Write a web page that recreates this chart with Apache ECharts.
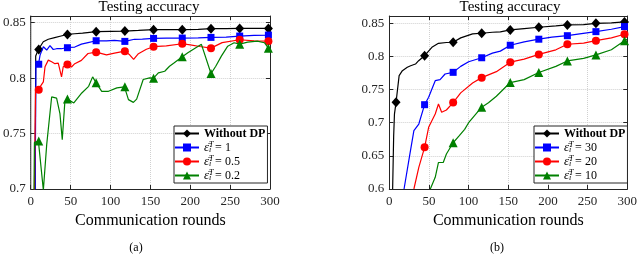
<!DOCTYPE html>
<html><head><meta charset="utf-8">
<script src="https://cdn.jsdelivr.net/npm/echarts/dist/echarts.min.js"></script>
<style>html,body{margin:0;padding:0;background:#fff}#c{width:640px;height:256px}</style>
</head><body><div id="c"></div>
<script>
// ---------- Left panel (a) ----------
const aBlackR = [4.5, 5.5, 6.2, 9.6, 15.7, 22, 30, 38, 46, 55, 65, 71, 82, 100, 118, 135, 154, 170, 190, 210, 226, 245, 262, 280, 298, 300];
const aBlackV = [0.6, 0.70, 0.82, 0.8258, 0.8328, 0.835, 0.8365, 0.838, 0.8394, 0.840, 0.8405, 0.841, 0.8419, 0.8422, 0.8424, 0.843, 0.8437, 0.8437, 0.8437, 0.844, 0.8446, 0.8447, 0.8448, 0.8448, 0.8448, 0.8448];
const aBlueR = [4, 5.5, 6.5, 9.6, 11.7, 15.8, 20, 24.1, 28.2, 32.4, 38.6, 46, 55.2, 63.5, 71.8, 82, 95, 105, 118, 130, 140, 154, 170, 190, 210, 226, 245, 262, 280, 298, 300];
const aBlueV = [0.6, 0.70, 0.811, 0.8122, 0.8207, 0.8283, 0.8253, 0.8292, 0.8258, 0.8265, 0.8265, 0.8276, 0.828, 0.8306, 0.832, 0.8337, 0.8335, 0.834, 0.8331, 0.835, 0.8352, 0.8358, 0.836, 0.8361, 0.8363, 0.8367, 0.837, 0.8379, 0.8385, 0.8388, 0.839];
const aRedR = [3.5, 4.6, 6, 9.6, 12.9, 15.8, 17.9, 22, 26.2, 30.3, 34.5, 38.6, 40.7, 46, 51.1, 55.2, 63.5, 71.8, 82, 95, 105, 118, 124, 129, 135, 145, 154, 170, 190, 200, 212, 226, 240, 262, 280, 298, 300];
const aRedV = [0.6, 0.70, 0.789, 0.7896, 0.7935, 0.7966, 0.8102, 0.8162, 0.8147, 0.813, 0.8135, 0.8011, 0.8102, 0.8122, 0.81, 0.813, 0.816, 0.8222, 0.8234, 0.821, 0.8225, 0.8243, 0.821, 0.8168, 0.822, 0.826, 0.8283, 0.829, 0.831, 0.830, 0.8285, 0.827, 0.832, 0.8346, 0.8335, 0.8333, 0.8335];
const aGreenR = [3, 4.6, 9.6, 15.8, 20, 26.2, 32.4, 36.6, 39.5, 42.8, 46, 54, 64, 72.6, 77.6, 82, 89, 97.5, 108, 117.5, 122.5, 128.7, 132.8, 141, 149, 154, 160, 168, 174, 180, 190, 197, 210, 214, 226, 232, 239, 247, 255, 262, 272, 284, 293, 298, 300];
const aGreenV = [0.6, 0.742, 0.7432, 0.699, 0.74, 0.783, 0.782, 0.768, 0.7444, 0.779, 0.7812, 0.7776, 0.7866, 0.7926, 0.8011, 0.7957, 0.7881, 0.7881, 0.7912, 0.7921, 0.7806, 0.7781, 0.781, 0.7987, 0.8002, 0.7999, 0.8047, 0.8062, 0.8107, 0.8138, 0.8192, 0.8228, 0.8288, 0.8304, 0.8041, 0.8107, 0.8198, 0.8288, 0.8319, 0.8306, 0.8324, 0.8333, 0.8319, 0.827, 0.8265];
const aMarkR = [10, 46, 82, 118, 154, 190, 226, 262, 298];
const aBlackM = [0.8258, 0.8394, 0.8419, 0.8424, 0.8437, 0.8437, 0.8446, 0.8448, 0.8448];
const aBlueM = [0.8125, 0.8274, 0.8337, 0.8331, 0.8358, 0.8361, 0.8367, 0.8379, 0.8388];
const aRedM = [0.7896, 0.8122, 0.8234, 0.8243, 0.8283, 0.831, 0.827, 0.8346, 0.8333];
const aGreenM = [0.7432, 0.7812, 0.7957, 0.7921, 0.7999, 0.8192, 0.8041, 0.8306, 0.827];
const aEps = ['1', '0.5', '0.2'];

// ---------- Right panel (b) ----------
const bBlackR = [4.2, 5.5, 6.5, 8.5, 12.4, 16.5, 22.7, 26.9, 33, 37, 44.5, 53.7, 62, 72, 80.5, 90, 105, 116.5, 130, 140, 152.5, 170, 188.5, 210, 224.5, 245, 260.5, 280, 296.5, 300];
const bBlackV = [0.6, 0.68, 0.713, 0.7308, 0.771, 0.7785, 0.7836, 0.786, 0.7885, 0.7936, 0.8011, 0.8138, 0.8198, 0.821, 0.8214, 0.828, 0.834, 0.835, 0.8365, 0.837, 0.840, 0.842, 0.844, 0.846, 0.8475, 0.848, 0.850, 0.8505, 0.852, 0.8522];
const bBlueR = [18.6, 26, 31, 37.2, 44.5, 49.6, 57.9, 64, 70.3, 80.5, 90, 100, 116.5, 130, 140, 152.5, 170, 188.5, 205, 224.5, 240, 260.5, 280, 296.5, 300];
const bBlueV = [0.6, 0.653, 0.688, 0.698, 0.7272, 0.7384, 0.7634, 0.765, 0.7735, 0.776, 0.785, 0.792, 0.798, 0.805, 0.808, 0.8169, 0.822, 0.826, 0.829, 0.8313, 0.834, 0.8374, 0.841, 0.845, 0.8455];
const bRedR = [31, 37.2, 44.5, 49.6, 57.9, 62, 66, 72, 80.5, 90, 105, 116.5, 135, 152.5, 170, 188.5, 210, 224.5, 245, 260.5, 280, 296.5, 300];
const bRedV = [0.6, 0.6327, 0.6629, 0.6931, 0.7132, 0.7282, 0.7157, 0.7192, 0.7304, 0.745, 0.76, 0.768, 0.777, 0.7913, 0.796, 0.803, 0.81, 0.8184, 0.82, 0.8238, 0.828, 0.8334, 0.8345];
const bGreenR = [51.7, 57.9, 62, 68, 72, 80.5, 88, 95, 100, 116.5, 125, 135, 152.5, 170, 188.5, 210, 224.5, 245, 260.5, 280, 296.5, 300];
const bGreenV = [0.6, 0.6177, 0.64, 0.64, 0.6528, 0.6698, 0.68, 0.69, 0.70, 0.7235, 0.73, 0.74, 0.7606, 0.765, 0.7757, 0.785, 0.7932, 0.797, 0.8023, 0.81, 0.8238, 0.826];
const bBlackMR = [8.5, 44.5, 80.5, 116.5, 152.5, 188.5, 224.5, 260.5, 296.5];
const bBlackM = [0.7308, 0.8011, 0.8214, 0.835, 0.840, 0.844, 0.8475, 0.850, 0.852];
const bBlueMR = [44.5, 80.5, 116.5, 152.5, 188.5, 224.5, 260.5, 296.5];
const bBlueM = [0.7272, 0.776, 0.798, 0.8169, 0.826, 0.8313, 0.8374, 0.845];
const bRedMR = [44.5, 80.5, 116.5, 152.5, 188.5, 224.5, 260.5, 296.5];
const bRedM = [0.6629, 0.7304, 0.768, 0.7913, 0.803, 0.8184, 0.8238, 0.8334];
const bGreenMR = [80.5, 116.5, 152.5, 188.5, 224.5, 260.5, 296.5];
const bGreenM = [0.6698, 0.7235, 0.7606, 0.7757, 0.7932, 0.8023, 0.8238];
const bEps = ['30', '20', '10'];

const xTicks = {min: 0, max: 300, interval: 50};
const titleText = 'Testing accuracy';
const xName = 'Communication rounds';

// ---------- build ----------
const SERIF = '"Liberation Serif", "Times New Roman", serif';
const AX = '#262626';
function pairs(r, v) { return r.map((x, i) => [x, v[i]]); }
const styles = [
  {color: '#000000', symbol: 'diamond', size: [9, 10]},
  {color: '#0000ff', symbol: 'rect', size: 7},
  {color: '#ff0000', symbol: 'circle', size: 8},
  {color: '#008000', symbol: 'triangle', size: 9}
];
function panel(idx, names, lines, marks) {
  const out = [];
  lines.forEach((ln, k) => {
    const st = styles[k];
    out.push({type: 'line', name: names[k], xAxisIndex: idx, yAxisIndex: idx,
      data: pairs(ln[0], ln[1]), symbol: st.symbol, symbolSize: st.size, showSymbol: false,
      lineStyle: {color: st.color, width: 1.2}, itemStyle: {color: st.color},
      animation: false, z: 2 + k});
  });
  marks.forEach((mk, k) => {
    const st = styles[k];
    out.push({type: 'scatter', xAxisIndex: idx, yAxisIndex: idx,
      data: pairs(mk[0], mk[1]), symbol: st.symbol, symbolSize: st.size,
      itemStyle: {color: st.color, opacity: 1}, silent: true, animation: false, z: 2 + k});
  });
  return out;
}
const aNames = ['Without DP'].concat(aEps.map(e => 'eps=' + e));
const bNames = ['Without DP'].concat(bEps.map(e => 'eps=' + e));
const series = [].concat(
  panel(0, aNames,
    [[aBlackR, aBlackV], [aBlueR, aBlueV], [aRedR, aRedV], [aGreenR, aGreenV]],
    [[aMarkR, aBlackM], [aMarkR, aBlueM], [aMarkR, aRedM], [aMarkR, aGreenM]]),
  panel(1, bNames,
    [[bBlackR, bBlackV], [bBlueR, bBlueV], [bRedR, bRedV], [bGreenR, bGreenV]],
    [[bBlackMR, bBlackM], [bBlueMR, bBlueM], [bRedMR, bRedM], [bGreenMR, bGreenM]])
);

const grids = [
  {left: 28.5, top: 16, width: 241.5, height: 173},
  {left: 389.3, top: 16, width: 241, height: 173}
];
function xAx(gi, pos, main) {
  return Object.assign({type: 'value', gridIndex: gi, position: pos}, xTicks, {
    axisLine: {show: true, lineStyle: {color: AX, width: 1}},
    axisTick: {show: true, inside: true, length: 4, lineStyle: {color: AX}},
    axisLabel: {show: main, margin: 6, fontFamily: SERIF, fontSize: 13, color: AX},
    splitLine: {show: main, lineStyle: {color: '#d0d0d0', type: 'dotted', width: 1}},
    name: main ? xName : '', nameLocation: 'middle', nameGap: 20,
    nameTextStyle: {fontFamily: SERIF, fontSize: 16, color: '#000'}
  });
}
function yAx(gi, pos, main, min, max) {
  return {type: 'value', gridIndex: gi, position: pos, min: min, max: max, interval: 0.05,
    axisLine: {show: true, onZero: false, lineStyle: {color: AX, width: 1}},
    axisTick: {show: true, inside: true, length: 4, lineStyle: {color: AX}},
    axisLabel: {show: main, margin: 5, showMaxLabel: false, fontFamily: SERIF, fontSize: 13, color: AX,
      formatter: v => String(+v.toFixed(3))},
    splitLine: {show: main, lineStyle: {color: '#d0d0d0', type: 'dotted', width: 1}}
  };
}
const rich = {
  b: {fontFamily: SERIF, fontWeight: 'bold', fontSize: 12, color: '#000', lineHeight: 13},
  e: {fontFamily: SERIF, fontStyle: 'italic', fontSize: 13, color: '#000', lineHeight: 13},
  sub: {fontFamily: SERIF, fontStyle: 'italic', fontSize: 8, color: '#000', verticalAlign: 'bottom', width: 0, lineHeight: 8},
  sup: {fontFamily: SERIF, fontStyle: 'italic', fontSize: 8, color: '#000', verticalAlign: 'top', lineHeight: 8, width: 6},
  t: {fontFamily: SERIF, fontSize: 12, color: '#000', lineHeight: 13}
};
function fmt(name) {
  if (name === 'Without DP') return '{b|Without DP}';
  return '{e|ε̄}{sub|i}{sup|T}{t|= ' + name.split('=')[1] + '}';
}
function legend(names, left) {
  return {data: names, orient: 'vertical', left: left, top: 126, itemWidth: 24, itemHeight: 10,
    itemGap: 1, padding: [1, 2, 1, 0], backgroundColor: '#fff', borderColor: AX, borderWidth: 1,
    selectedMode: false, formatter: fmt, textStyle: {rich: rich, lineHeight: 13}};
}
function txt(x, y, s, size) {
  return {type: 'text', x: x, y: y, z: 10,
    style: {text: s, font: size + 'px ' + SERIF, fill: '#000', align: 'center', verticalAlign: 'middle',
      textAlign: 'center', textVerticalAlign: 'middle'}};
}

const chart = echarts.init(document.getElementById('c'), null, {renderer: 'canvas'});
chart.setOption({
  animation: false,
  backgroundColor: '#fff',
  grid: grids,
  xAxis: [xAx(0, 'bottom', true), xAx(1, 'bottom', true), xAx(0, 'top', false), xAx(1, 'top', false)],
  yAxis: [yAx(0, 'left', true, 0.7, 0.856), yAx(1, 'left', true, 0.6, 0.861),
          yAx(0, 'right', false, 0.7, 0.856), yAx(1, 'right', false, 0.6, 0.861)],
  legend: [legend(aNames, 174), legend(bNames, 534)],
  graphic: [
    txt(149, 7, titleText, 15), txt(510, 7, titleText, 15),
    txt(136, 248, '(a)', 12), txt(497, 248, '(b)', 12)
  ],
  series: series
});
</script></body></html>
